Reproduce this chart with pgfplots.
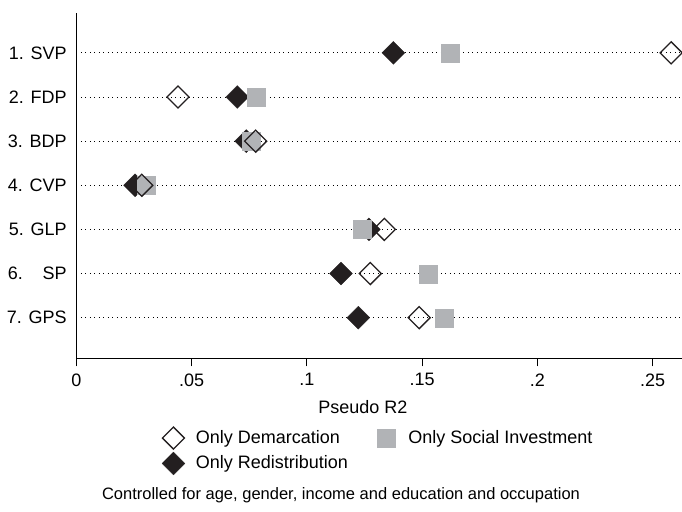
\documentclass[border=0pt]{standalone}
\usepackage{pgfplots}
\pgfplotsset{compat=1.18}
\usepackage{fontspec}
\setmainfont{Liberation Sans}
\definecolor{siGray}{HTML}{B1B3B6}
\definecolor{redBlack}{HTML}{231F20}
\begin{document}
\fontsize{18bp}{21bp}\selectfont
\begin{tikzpicture}
\useasboundingbox (-76.3bp,-153.7bp) rectangle (605.7bp,358.3bp);
\begin{axis}[
  at={(0,0)}, anchor=south west,
  scale only axis, width=605.7bp, height=345.6bp,
  xmin=0, xmax=0.2627, ymin=0.08, ymax=7.91,
  axis x line=bottom, axis y line=left,
  axis line style={-, line width=0.9bp, black},
  tick align=outside, major tick length=8bp,
  xtick={0,0.05,0.1,0.15,0.2,0.25},
  xticklabels={0,.05,.1,.15,.2,.25},
  ytick={1,2,3,4,5,6,7},
  yticklabels={7. GPS,6.\hspace{1.1em}SP,5. GLP,4. CVP,3. BDP,2. FDP,1. SVP},
  ytick style={draw=none},
  xtick style={line width=0.9bp, black},
  ymajorgrids,
  major grid style={black, line width=0.9bp, dash pattern=on 0.9bp off 3.6bp},
  /pgf/number format/assume math mode=true,
  tick label style={font=\fontsize{18bp}{21bp}\selectfont},
  xticklabel style={yshift=-1bp},
  yticklabel style={xshift=4.5bp},
  xlabel={Pseudo R2},
  x label style={at={(axis description cs:0.473,0)}, anchor=base, yshift=-55bp, font=\fontsize{18bp}{21bp}\selectfont},
  legend columns=2,
  legend style={at={(axis description cs:0.1415,-0.197)}, anchor=north west,
    draw=none, fill=none, inner sep=0pt, outer sep=0pt,
    font=\fontsize{18bp}{21bp}\selectfont,
    column sep=10bp, row sep=2bp,
    /tikz/every even column/.append style={column sep=26bp},
    nodes={inner sep=1bp}},
  legend cell align=left,
  legend image code/.code={\path (-11bp,-11.5bp) coordinate (lgA) (11bp,11.5bp) coordinate (lgB); \draw[#1] plot coordinates {(0bp,0bp)};},
]
% Only Redistribution (black diamonds)
\addplot[only marks, forget plot, color=redBlack, mark=square*, mark size=8.1bp,
  mark options={rotate=45, fill=redBlack, draw=redBlack, line width=0.3bp}]
  coordinates {(0.1375,7) (0.0698,6) (0.0737,5) (0.0255,4) (0.1269,3) (0.1148,2) (0.1223,1)};
% Only Social Investment (grey squares)
\addplot[only marks, forget plot, color=siGray, mark=square*, mark size=9bp,
  mark options={fill=siGray, draw=siGray, line width=0.1bp}]
  coordinates {(0.1620,7) (0.0779,6) (0.0756,5) (0.0301,4) (0.1238,3) (0.1527,2) (0.1595,1)};
% Only Demarcation (hollow diamonds)
\addplot[only marks, forget plot, color=redBlack, mark=square, mark size=7.8bp,
  mark options={rotate=45, draw=redBlack, fill=none, line width=1.3bp}]
  coordinates {(0.2580,7) (0.0441,6) (0.0778,5) (0.0284,4) (0.1336,3) (0.1275,2) (0.1487,1)};
\addlegendimage{only marks, color=redBlack, mark=square, mark size=7.8bp, mark options={rotate=45, draw=redBlack, fill=none, line width=1.3bp}}
\addlegendentry{Only Demarcation}
\addlegendimage{only marks, color=siGray, mark=square*, mark size=9bp, mark options={fill=siGray, draw=siGray, line width=0.1bp}}
\addlegendentry{Only Social Investment}
\addlegendimage{only marks, color=redBlack, mark=square*, mark size=8.1bp, mark options={rotate=45, fill=redBlack, draw=redBlack, line width=0.3bp}}
\addlegendentry{Only Redistribution}
\end{axis}
\node[anchor=base, font=\fontsize{16.5bp}{20bp}\selectfont] at (264.7bp,-140.7bp) {Controlled for age, gender, income and education and occupation};
\end{tikzpicture}
\end{document}
